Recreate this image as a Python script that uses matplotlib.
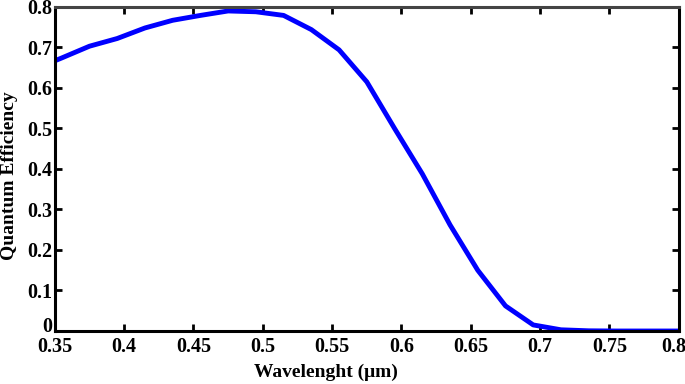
import numpy as np
import matplotlib
matplotlib.use('Agg')
import matplotlib.pyplot as plt
import matplotlib.transforms as mtransforms

# wavelength (um) and quantum efficiency
wavelength = [0.35, 0.355, 0.375, 0.395, 0.415, 0.435, 0.455, 0.475, 0.495,
              0.515, 0.535, 0.555, 0.575, 0.595, 0.615, 0.635, 0.655, 0.675,
              0.695, 0.715, 0.735, 0.755, 0.8]
qe = [0.667, 0.674, 0.703, 0.722, 0.748, 0.767, 0.779, 0.790, 0.788,
      0.779, 0.744, 0.694, 0.615, 0.500, 0.388, 0.262, 0.150, 0.062,
      0.015, 0.003, 0.0005, 0.0, 0.0]

xticks = [0.35, 0.4, 0.45, 0.5, 0.55, 0.6, 0.65, 0.7, 0.75, 0.8]
xticklabels = ['0.35', '0.4', '0.45', '0.5', '0.55', '0.6', '0.65', '0.7', '0.75', '0.8']
yticks = [0, 0.1, 0.2, 0.3, 0.4, 0.5, 0.6, 0.7, 0.8]
yticklabels = ['0', '0.1', '0.2', '0.3', '0.4', '0.5', '0.6', '0.7', '0.8']

plt.rcParams['font.family'] = 'Liberation Serif'
plt.rcParams['font.weight'] = 'bold'

fig = plt.figure(figsize=(6.85, 3.84), dpi=100)
ax = fig.add_axes([0.080, 0.138, 0.911, 0.844])

ax.plot(wavelength, qe, color=(0, 0, 1), linewidth=3.5, solid_joinstyle='round')

ax.set_xlim(0.35, 0.8)
ax.set_ylim(0, 0.8)
ax.set_xticks(xticks)
ax.set_xticklabels(xticklabels)
ax.set_yticks(yticks)
ax.set_yticklabels(yticklabels)

ax.tick_params(direction='in', length=5, width=2, top=True, right=True,
               labelsize=14.5)
ax.tick_params(axis='x', pad=4)
ax.tick_params(axis='y', pad=2)
for lab in ax.get_xticklabels() + ax.get_yticklabels():
    lab.set_fontweight('bold')

# nudge the last x label inside the canvas and the "0" y label upward
xl = ax.get_xticklabels()
xl[-1].set_transform(xl[-1].get_transform() +
                     mtransforms.ScaledTranslation(-5 / 100, 0, fig.dpi_scale_trans))
yl = ax.get_yticklabels()
yl[0].set_transform(yl[0].get_transform() +
                    mtransforms.ScaledTranslation(0, 7 / 100, fig.dpi_scale_trans))

for s in ax.spines.values():
    s.set_linewidth(2.2)
    s.set_color('black')
ax.spines['top'].set_color('#444444')

ax.set_xlabel('Wavelenght (\u03bcm)', fontsize=14, fontweight='bold')
ax.set_ylabel('Quantum Efficiency', fontsize=14, fontweight='bold')
ax.xaxis.set_label_coords(0.434, -0.127)
ax.xaxis.label.set_va('center')
ax.yaxis.set_label_coords(-0.072, 0.48)
ax.yaxis.label.set_va('center')

plt.savefig('out.png', dpi=100)
plt.close()
